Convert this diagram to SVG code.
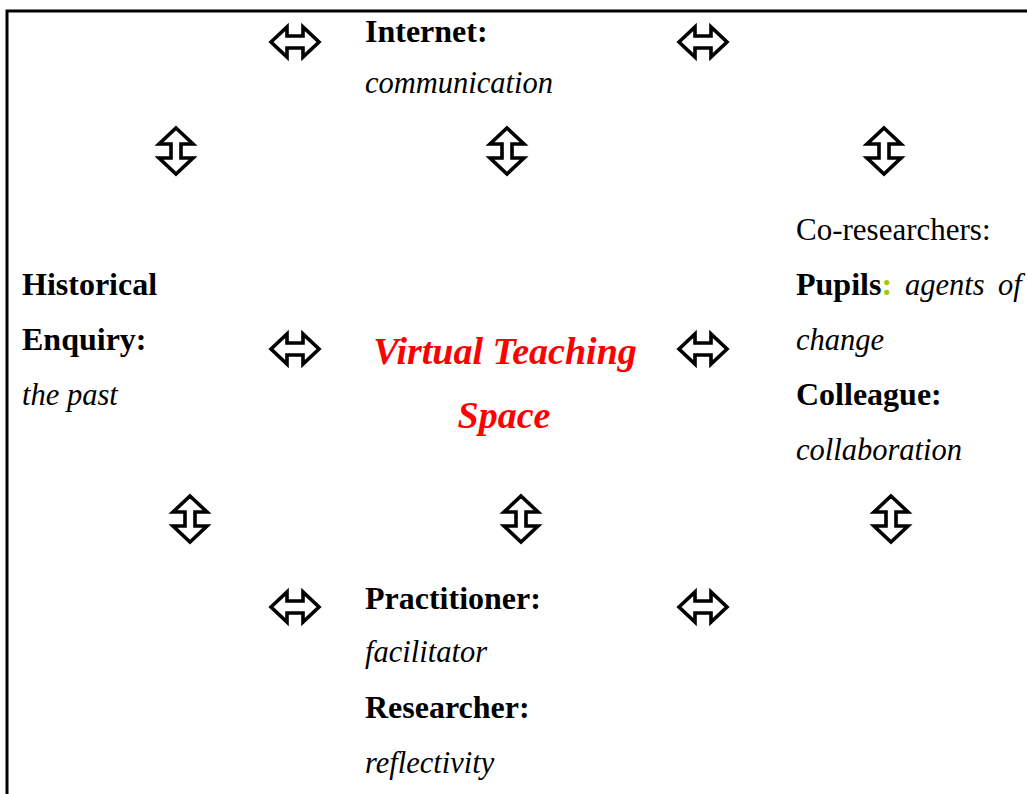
<svg xmlns="http://www.w3.org/2000/svg" width="1027" height="794" viewBox="0 0 1027 794">
<defs>
<style>
text{font-family:"Liberation Serif","Times New Roman",serif;font-size:31px;fill:#000}
.b{font-weight:bold;font-size:32px}
.i{font-style:italic;font-size:30.5px}
.red{fill:#ff0000;font-weight:bold;font-style:italic;font-size:38px}
.arr{fill:#fff;stroke:#000;stroke-width:3.6;stroke-linejoin:miter}
</style>
<path id="h" class="arr" d="M-24,0 L-8,-15 L-8,-6 L8,-6 L8,-15 L24,0 L8,15 L8,6 L-8,6 L-8,15 Z"/>
<path id="v" class="arr" d="M0,-23 L17,-7 L5,-7 L5,7 L17,7 L0,23 L-17,7 L-5,7 L-5,-7 L-17,-7 Z"/>
</defs>
<rect width="1027" height="794" fill="#fff"/>
<path d="M7,794 L7,11 L1027,11" fill="none" stroke="#000" stroke-width="3"/>
<g id="connectors">
<use href="#h" x="295" y="42"/>
<use href="#h" x="703" y="42"/>
<use href="#h" x="295" y="349"/>
<use href="#h" x="703" y="349"/>
<use href="#h" x="295" y="607"/>
<use href="#h" x="703" y="607"/>
<use href="#v" x="176" y="151"/>
<use href="#v" x="507" y="151"/>
<use href="#v" x="884" y="151"/>
<use href="#v" x="190" y="519"/>
<use href="#v" x="521" y="519"/>
<use href="#v" x="891" y="519"/>
</g>
<g id="internet">
<text class="b" x="365" y="42">Internet:</text>
<text class="i" x="365" y="93">communication</text>
</g>
<g id="historical">
<text class="b" x="22" y="295">Historical</text>
<text class="b" x="22" y="350">Enquiry:</text>
<text class="i" x="22" y="405">the past</text>
</g>
<g id="center">
<text class="red" x="505" y="364" text-anchor="middle">Virtual Teaching</text>
<text class="red" x="504" y="428" text-anchor="middle">Space</text>
</g>
<g id="coresearchers">
<text x="796" y="240">Co-researchers:</text>
<text x="796" y="295"><tspan class="b">Pupils</tspan><tspan class="b" fill="#99cc00">:</tspan><tspan class="i" x="905">agents</tspan><tspan class="i" x="998">of</tspan></text>
<text class="i" x="796" y="350">change</text>
<text class="b" x="796" y="405">Colleague:</text>
<text class="i" x="796" y="460">collaboration</text>
</g>
<g id="practitioner">
<text class="b" x="365" y="609">Practitioner:</text>
<text class="i" x="365" y="662">facilitator</text>
<text class="b" x="365" y="718">Researcher:</text>
<text class="i" x="365" y="773">reflectivity</text>
</g>
</svg>
